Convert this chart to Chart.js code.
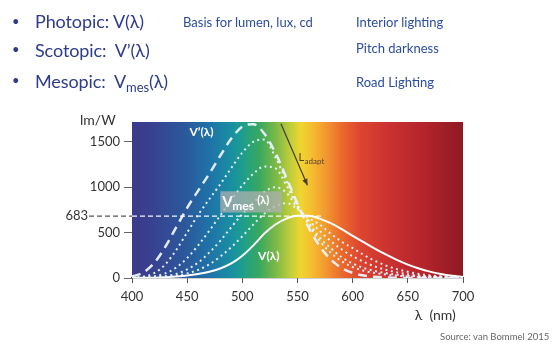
<!DOCTYPE html>
<html>
<head>
<meta charset="utf-8">
<script src="https://cdn.jsdelivr.net/npm/chart.js@4"></script>
<style>
  body { margin: 0; background: #fff; }
  #wrap { position: relative; width: 554px; height: 350px; font-family: Lato, sans-serif; }
  #wrap canvas { position: absolute; left: 0; top: 0; }
  .t { position: absolute; white-space: pre; line-height: 1; }
  .big { font-size: 18px; color: #2d3c8c; letter-spacing: -0.1px; }
  .small { font-size: 13px; color: #2a4c9e; }
  .bul { font-size: 13px; color: #2d3c8c; }
  .big sub { font-size: 0.72em; vertical-align: -0.3em; }
</style>
</head>
<body>
<div id="wrap">
  <canvas id="chart" width="554" height="350"></canvas>
  <div class="t bul" style="left:12px; top:15px;">•</div>
  <div class="t big" style="left:35px; top:12px;">Photopic: V(λ)</div>
  <div class="t small" style="left:183px; top:16px;">Basis for lumen, lux, cd</div>
  <div class="t small" style="left:356px; top:16px;">Interior lighting</div>
  <div class="t bul" style="left:12px; top:43px;">•</div>
  <div class="t big" style="left:35px; top:41px;">Scotopic:  V’(λ)</div>
  <div class="t small" style="left:356px; top:42px;">Pitch darkness</div>
  <div class="t bul" style="left:12px; top:74px;">•</div>
  <div class="t big" style="left:35px; top:72px;">Mesopic:  V<sub>mes</sub>(λ)</div>
  <div class="t small" style="left:356px; top:76px;">Road Lighting</div>
  <div class="t" style="left:80px; top:113px; font-size:14px; color:#333;">lm/W</div>
  <div class="t" style="left:440px; top:332px; font-size:9.5px; color:#666;">Source: van Bommel 2015</div>
</div>
<script>
// wavelength grid (nm) and luminous efficacy curves (lm/W)
const wavelengths = [400, 410, 420, 430, 440, 450, 460, 470, 480, 490, 500, 510, 520, 530, 540, 550,
                     560, 570, 580, 590, 600, 610, 620, 630, 640, 650, 660, 670, 680, 690, 700];
const photopic = [1, 2, 4, 9, 17, 28, 45, 68, 105, 160, 245, 360, 490, 590, 655, 685,
                  685, 655, 605, 540, 465, 395, 325, 260, 200, 148, 105, 70, 44, 25, 12];
const scotopic = [16, 59, 164, 340, 558, 774, 964, 1149, 1348, 1537, 1669, 1695, 1590, 1379, 1105, 818,
                  559, 353, 206, 111, 56, 27, 13, 6, 3, 1, 0, 0, 0, 0, 0];
const mesopic1 = [5, 14, 53, 148, 306, 502, 697, 868, 1034, 1213, 1383, 1502, 1526, 1330, 1070, 810,
                  590, 410, 280, 185, 120, 80, 55, 38, 26, 18, 12, 8, 5, 3, 2];
const mesopic2 = [2, 6, 18, 50, 115, 220, 360, 520, 690, 860, 1020, 1150, 1230, 1210, 1020, 790,
                  612, 450, 330, 230, 160, 110, 78, 54, 37, 25, 17, 11, 7, 4, 3];
const mesopic3 = [1, 3, 8, 20, 45, 95, 170, 280, 410, 560, 705, 830, 950, 1000, 940, 770,
                  638, 520, 410, 315, 240, 178, 128, 90, 62, 42, 28, 18, 11, 7, 4];
const mesopic4 = [1, 2, 5, 12, 25, 50, 90, 150, 235, 340, 460, 590, 710, 790, 825, 760,
                  662, 590, 490, 400, 330, 255, 190, 138, 98, 68, 45, 29, 18, 11, 6];
const xTickValues = [400, 450, 500, 550, 600, 650, 700];
const yTickValues = [0, 500, 1000, 1500];
const refLevel = 683;       // lm/W at 555 nm
const refLineEnd = 572;     // nm where the dashed 683 line stops

// spectrum colours behind the plot
const spectrum = [[400, '#3b3a8a'], [420, '#384290'], [450, '#2a5a9c'], [470, '#1f72a8'], [490, '#198fa2'],
  [500, '#1d9e8c'], [515, '#37a860'], [530, '#7ab848'], [545, '#c8cf3a'], [553, '#f0d530'],
  [562, '#f5c030'], [575, '#f29a30'], [590, '#ea6a2c'], [607, '#dd4530'], [635, '#c93030'],
  [670, '#b0222a'], [700, '#8c1a22']];

const pts = vals => wavelengths.map((w, i) => ({ x: w, y: vals[i] }));

const spectrumPlugin = {
  id: 'spectrum',
  beforeDatasetsDraw(chart) {
    const { ctx, chartArea: a, scales: { x } } = chart;
    const g = ctx.createLinearGradient(a.left, 0, a.right, 0);
    spectrum.forEach(([w, c]) => g.addColorStop((x.getPixelForValue(w) - a.left) / (a.right - a.left), c));
    ctx.save();
    ctx.fillStyle = g;
    ctx.fillRect(a.left, a.top, a.right - a.left, a.bottom - a.top);
    ctx.restore();
  }
};

const notesPlugin = {
  id: 'notes',
  afterDatasetsDraw(chart) {
    const { ctx, chartArea: a, scales: { x, y } } = chart;
    ctx.save();
    // 683 reference line
    const y683 = y.getPixelForValue(refLevel);
    ctx.lineWidth = 1.2;
    ctx.setLineDash([5, 3]);
    ctx.strokeStyle = '#555';
    ctx.beginPath(); ctx.moveTo(89, y683); ctx.lineTo(a.left, y683); ctx.stroke();
    ctx.strokeStyle = 'rgba(255,255,255,0.95)';
    ctx.beginPath(); ctx.moveTo(a.left, y683); ctx.lineTo(x.getPixelForValue(refLineEnd), y683); ctx.stroke();
    ctx.setLineDash([]);
    ctx.font = '13px Lato';
    ctx.fillStyle = '#333';
    ctx.textAlign = 'right';
    ctx.textBaseline = 'middle';
    ctx.fillText(String(refLevel), 88, y683);

    // curve labels
    ctx.textAlign = 'center';
    ctx.fillStyle = '#fff';
    ctx.font = 'bold 12px Lato';
    ctx.fillText('V’(λ)', x.getPixelForValue(463), y.getPixelForValue(1610));
    ctx.fillText('V(λ)', x.getPixelForValue(524), y.getPixelForValue(244));

    // Vmes label on grey box
    const bx = x.getPixelForValue(480), by = y.getPixelForValue(956);
    const bw = x.getPixelForValue(536) - bx, bh = y.getPixelForValue(722) - by;
    ctx.fillStyle = 'rgba(175,175,175,0.75)';
    ctx.fillRect(bx, by, bw, bh);
    ctx.fillStyle = '#fff';
    ctx.textAlign = 'left';
    ctx.textBaseline = 'alphabetic';
    ctx.font = 'bold 15px Lato';
    ctx.fillText('V', bx + 2, by + 16);
    ctx.font = 'bold 12px Lato';
    ctx.fillText('mes', bx + 12, by + 19);
    ctx.font = 'bold 11px Lato';
    ctx.fillText('(λ)', bx + 37, by + 13);

    // L_adapt arrow
    const x0 = x.getPixelForValue(535), y0 = y.getPixelForValue(1700);
    const x1 = x.getPixelForValue(559), y1 = y.getPixelForValue(1022);
    ctx.strokeStyle = '#4a3c30';
    ctx.fillStyle = '#4a3c30';
    ctx.lineWidth = 1.2;
    ctx.beginPath(); ctx.moveTo(x0, y0); ctx.lineTo(x1, y1); ctx.stroke();
    const ang = Math.atan2(y1 - y0, x1 - x0);
    ctx.beginPath();
    ctx.moveTo(x1, y1);
    ctx.lineTo(x1 - 7 * Math.cos(ang - 0.4), y1 - 7 * Math.sin(ang - 0.4));
    ctx.lineTo(x1 - 7 * Math.cos(ang + 0.4), y1 - 7 * Math.sin(ang + 0.4));
    ctx.closePath(); ctx.fill();
    const lx = x.getPixelForValue(551), ly = y.getPixelForValue(1289);
    ctx.fillStyle = '#5a4030';
    ctx.font = '11px Lato';
    ctx.fillText('L', lx, ly);
    ctx.font = '8px Lato';
    ctx.fillText('adapt', lx + 6, ly + 3);
    ctx.restore();
  }
};

const scotStyle = { borderColor: 'rgba(235,242,255,0.95)', borderWidth: 2.5, borderDash: [9, 6] };
const mesStyle = { borderColor: 'rgba(235,245,255,0.95)', borderWidth: 2, borderDash: [2, 3.5] };

new Chart(document.getElementById('chart'), {
  type: 'line',
  data: {
    datasets: [
      { label: 'V’(λ)', data: pts(scotopic), ...scotStyle },
      { label: 'Vmes 1', data: pts(mesopic1), ...mesStyle },
      { label: 'Vmes 2', data: pts(mesopic2), ...mesStyle },
      { label: 'Vmes 3', data: pts(mesopic3), ...mesStyle },
      { label: 'Vmes 4', data: pts(mesopic4), ...mesStyle },
      { label: 'V(λ)', data: pts(photopic), borderColor: '#fff', borderWidth: 2 }
    ]
  },
  options: {
    responsive: false,
    animation: false,
    layout: { padding: { left: 0, top: 122, right: 91, bottom: 26 } },
    elements: { point: { radius: 0 }, line: { cubicInterpolationMode: 'monotone', fill: false } },
    plugins: { legend: { display: false }, tooltip: { enabled: false } },
    scales: {
      x: {
        type: 'linear', min: 400, max: 700,
        afterBuildTicks: axis => { axis.ticks = xTickValues.map(v => ({ value: v })); },
        afterFit: axis => { axis.height = 46; },
        grid: { drawOnChartArea: false, drawTicks: true, tickLength: 5, color: '#555' },
        border: { display: true, color: '#444', width: 1.2 },
        ticks: { color: '#333', font: { family: 'Lato', size: 13 }, padding: 6, maxRotation: 0 },
        title: { display: true, text: 'λ  (nm)  ', align: 'end', color: '#333', font: { family: 'Lato', size: 14 }, padding: 0 }
      },
      y: {
        min: 0, max: 1720,
        afterBuildTicks: axis => { axis.ticks = yTickValues.map(v => ({ value: v })); },
        afterFit: axis => { axis.width = 132; },
        grid: { drawOnChartArea: false, drawTicks: true, tickLength: 8, color: '#666' },
        border: { display: false },
        ticks: { color: '#333', font: { family: 'Lato', size: 13 }, padding: 4, callback: v => String(v) }
      }
    }
  },
  plugins: [spectrumPlugin, notesPlugin]
});
</script>
</body>
</html>
